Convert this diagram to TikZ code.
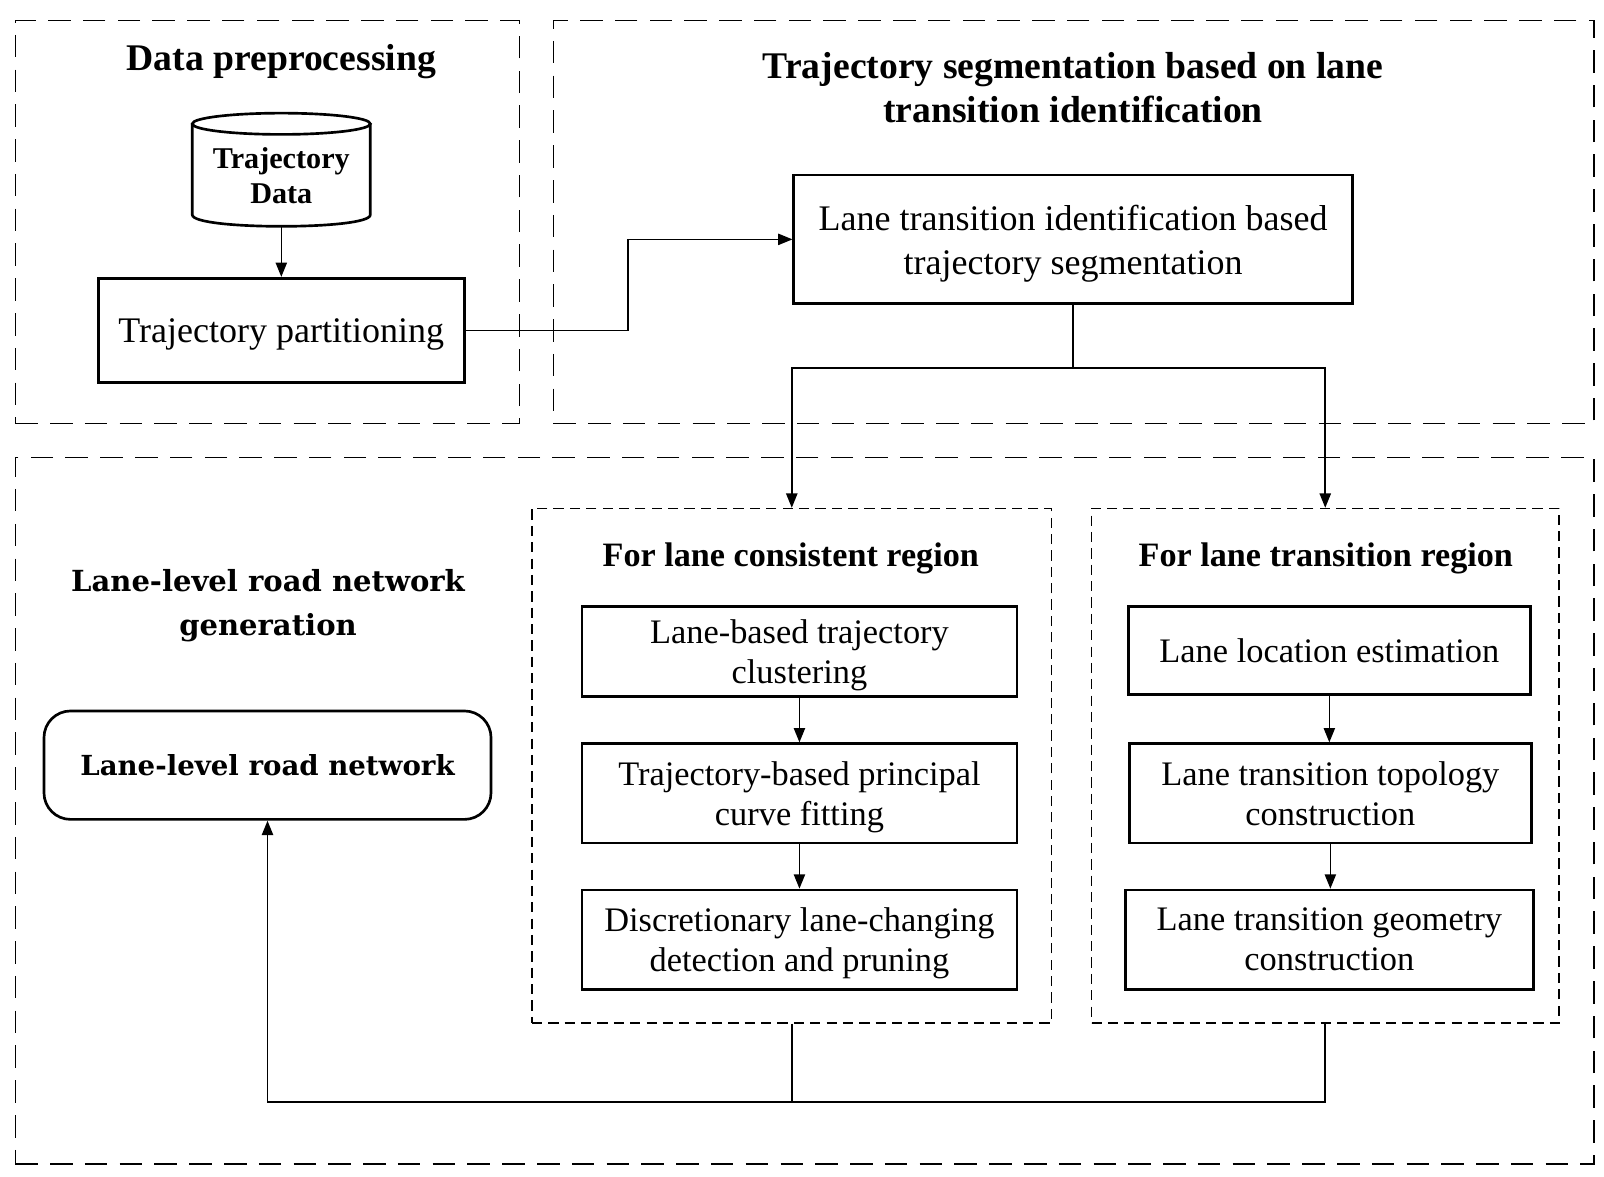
\documentclass[tikz,border=0pt]{standalone}
\usepackage{fontspec}
\setmainfont{Liberation Serif}
\newfontfamily\wideserif{DejaVu Serif}
\usetikzlibrary{arrows.meta}
\newcommand\nodepth[1]{\raisebox{0pt}[\height][0pt]{#1}}
\begin{document}
\begin{tikzpicture}[x=0.5pt,y=-0.5pt,
  region/.style={draw, line width=0.7pt, dash pattern=on 11pt off 6pt, inner sep=0pt},
  subregion/.style={draw, line width=0.6pt, dash pattern=on 5pt off 3pt, inner sep=0pt},
  stepbox/.style={draw, line width=1.3pt, inner sep=0pt, align=center},
  bodyA/.style={font=\fontsize{17.6}{21.5}\selectfont},
  bodyB/.style={font=\fontsize{16.8}{19.5}\selectfont},
  titleA/.style={align=center, font=\bfseries\fontsize{18.4}{21.5}\selectfont},
  titleB/.style={align=center, font=\bfseries\fontsize{16.7}{20}\selectfont},
  widetitle/.style={align=center, font=\wideserif\bfseries\fontsize{14.2}{21.5}\selectfont},
  conn/.style={line width=0.75pt},
  arr/.style={line width=0.75pt, -{Triangle[length=7pt,width=5.5pt]}}
]
\useasboundingbox (0,0) rectangle (1568,1150);

% dashed regions
\node[region, minimum width=246.5pt, minimum height=197pt] (R1) at (261.5,217) {};
\node[region, minimum width=508.5pt, minimum height=197pt] (R2) at (1049.5,217) {};
\node[region, minimum width=771.5pt, minimum height=345.5pt] (R3) at (786.5,792.5) {};
\node[subregion, minimum width=254pt, minimum height=251.5pt] (RA) at (774,748.5) {};
\node[subregion, minimum width=228.5pt, minimum height=251.5pt] (RB) at (1295.5,748.5) {};

% titles
\node[titleA] (t1) at (275,60) {Data preprocessing};
\node[titleA] (t2) at (1049,86) {Trajectory segmentation based on lane\\transition identification};
\node[titleB] (tA) at (773,546) {For lane consistent region};
\node[titleB] (tB) at (1296,546) {For lane transition region};
\node[widetitle] (t3) at (262,592) {Lane-level road network\\generation};

% cylinder
\draw[line width=1.3pt] (188,121) -- (188,210) .. controls (188,225) and (362,225) .. (362,210) -- (362,121);
\draw[line width=1.3pt] (275,121) ellipse [x radius=43.5pt, y radius=5.2pt];
\node[inner sep=0pt, minimum width=87pt, minimum height=55pt] (cyl) at (275,166) {};
\node[align=center, font=\bfseries\fontsize{14.75}{17}\selectfont] (cyltext) at (275,172) {Trajectory\\Data};

% boxes
\node[stepbox, bodyA, minimum width=179pt, minimum height=51pt] (tp) at (275,323) {\nodepth{Trajectory partitioning}};
\node[stepbox, bodyA, minimum width=273pt, minimum height=63pt] (lt) at (1049,234) {Lane transition identification based\\\nodepth{trajectory segmentation}};

\node[stepbox, bodyB, minimum width=212.5pt, minimum height=44pt] (A1) at (781.5,637) {Lane-based trajectory\\\nodepth{clustering}};
\node[stepbox, bodyB, minimum width=212.5pt, minimum height=48.5pt] (A2) at (781.5,775.5) {Trajectory-based principal\\\nodepth{curve fitting}};
\node[stepbox, bodyB, minimum width=212.5pt, minimum height=48.5pt] (A3) at (781.5,918.5) {Discretionary lane-changing\\\nodepth{detection and pruning}};

\node[stepbox, bodyB, minimum width=196.5pt, minimum height=43pt] (B1) at (1299.5,636) {Lane location estimation};
\node[stepbox, bodyB, minimum width=196.5pt, minimum height=48.5pt] (B2) at (1300.5,775.5) {Lane transition topology\\construction};
\node[stepbox, bodyB, minimum width=199.5pt, minimum height=48.5pt] (B3) at (1299.5,918.5) {Lane transition geometry\\construction};

\node[stepbox, rounded corners=13pt, minimum width=218.5pt, minimum height=53pt,
      font=\wideserif\bfseries\fontsize{13.5}{16}\selectfont] (rn) at (261.5,748) {Lane-level road network};

% connectors
\draw[arr] (cyl.south) -- (tp.north);
\coordinate (elbow) at (614,0);
\draw[arr] (tp.east) -- (tp.east -| elbow) |- (lt.west);
\coordinate (split) at (0,360);
\draw[arr] (lt.south) -- (lt.south |- split) -| (RA.north);
\draw[arr] (lt.south) -- (lt.south |- split) -| (RB.north);
\draw[arr] (A1.south) -- (A1.south |- A2.north);
\draw[arr] (A2.south) -- (A2.south |- A3.north);
\draw[arr] (B1.south) -- (B1.south |- B2.north);
\draw[arr] (B2.south) -- (B2.south |- B3.north);
\coordinate (bus) at (0,1077);
\draw[conn] (RA.south) -- (RA.south |- bus);
\draw[arr] (RB.south) -- (RB.south |- bus) -- (rn.south |- bus) -- (rn.south);
\end{tikzpicture}
\end{document}
